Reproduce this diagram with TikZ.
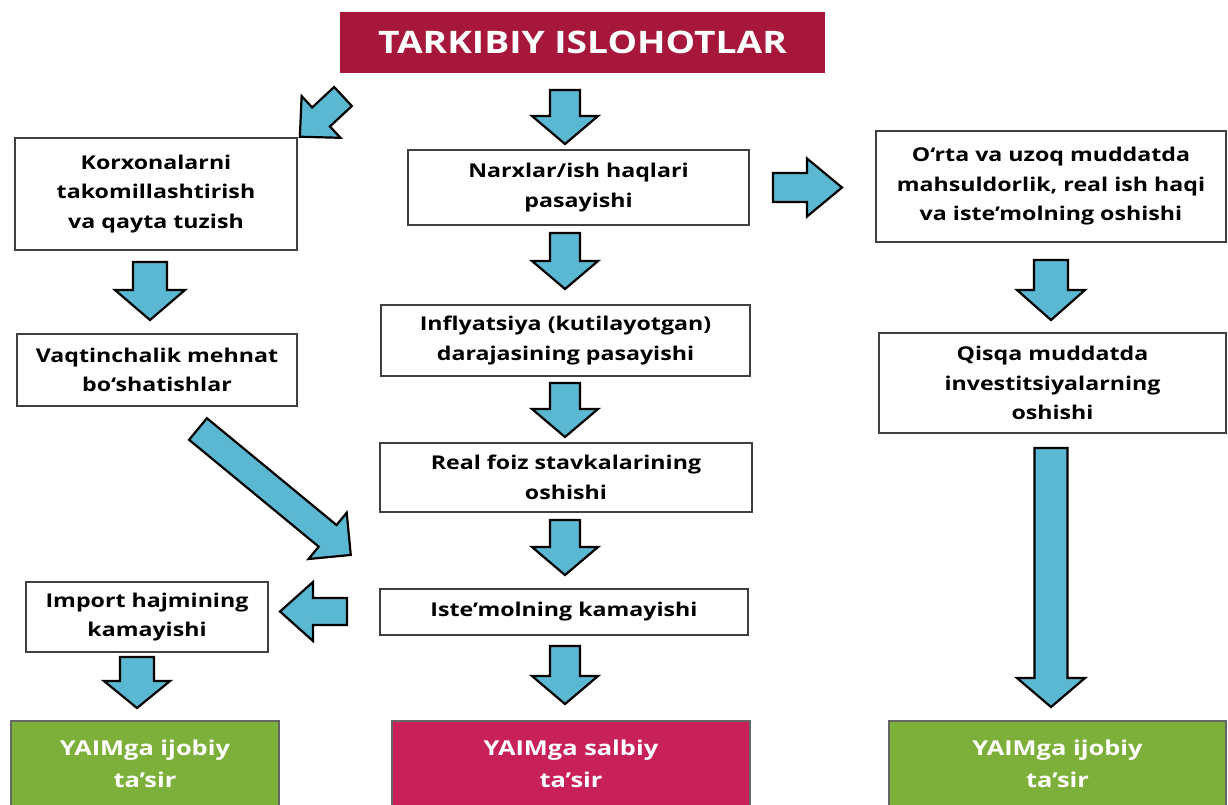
\documentclass[tikz,border=0pt]{standalone}
\usepackage{fontspec}
\setmainfont{Open Sans}
\newfontfamily\boxfont[FakeStretch=1.22]{Open Sans}
\newfontfamily\resfont[FakeStretch=1.24]{Open Sans}
\newfontfamily\titlefont[FakeStretch=1.2]{Open Sans}
\definecolor{titlered}{HTML}{A6173B}
\definecolor{negred}{HTML}{C8215A}
\definecolor{posgreen}{HTML}{7DB03A}
\definecolor{arrblue}{HTML}{5BB8D2}
\tikzset{
  box/.style={draw=black!75, line width=1.3pt, fill=white, align=center, inner sep=2pt,
    font=\boxfont\fontsize{19}{29.5}\selectfont\bfseries},
  resbox/.style={draw=black!60, line width=1.3pt, align=center, text=white,
    font=\resfont\fontsize{20.5}{32}\selectfont\bfseries},
  blockarr/.style={draw=black, line width=2.2pt, fill=arrblue, line join=miter}
}
% #1 tail point, #2 rotation, #3 length, #4 shaft half width, #5 head half width, #6 head length
\newcommand\barrow[6]{%
  \draw[blockarr, shift={#1}, rotate=#2]
    (0,-#4) -- ({#3-#6},-#4) -- ({#3-#6},-#5) -- (#3,0) -- ({#3-#6},#5) -- ({#3-#6},#4) -- (0,#4) -- cycle;}
\begin{document}
\begin{tikzpicture}[x=1pt,y=-1pt]
\useasboundingbox (0,0) rectangle (1228,804);
\fill[white] (0,0) rectangle (1228,804);

\node[fill=titlered, text=white, minimum width=485pt, minimum height=61pt,
  font=\titlefont\fontsize{31}{36}\selectfont\bfseries] (title) at (582.5,42.5) {TARKIBIY ISLOHOTLAR};

\node[box, minimum width=282pt, minimum height=112pt] (b1) at (156,194)
  {Korxonalarni\\takomillashtirish\\va qayta tuzish};
\node[box, minimum width=341pt, minimum height=75pt] (b2) at (578.5,187.5)
  {Narxlar/ish haqlari\\pasayishi};
\node[box, minimum width=350pt, minimum height=111pt] (b3) at (1051,186.5)
  {O‘rta va uzoq muddatda\\mahsuldorlik, real ish haqi\\va iste’molning oshishi};
\node[box, minimum width=280pt, minimum height=72pt] (b4) at (157,370)
  {Vaqtinchalik mehnat\\bo‘shatishlar};
\node[box, minimum width=369pt, minimum height=71pt] (b5) at (565.5,340.5)
  {Inflyatsiya (kutilayotgan)\\darajasining pasayishi};
\node[box, minimum width=347pt, minimum height=100pt] (b6) at (1052.5,383)
  {Qisqa muddatda\\investitsiyalarning\\oshishi};
\node[box, minimum width=372pt, minimum height=69pt] (b7) at (566,477.5)
  {Real foiz stavkalarining\\oshishi};
\node[box, minimum width=242pt, minimum height=70pt] (b8) at (147,617)
  {Import hajmining\\kamayishi};
\node[box, minimum width=368pt, minimum height=46pt] (b9) at (564,612)
  {Iste’molning kamayishi};

\node[resbox, fill=posgreen, minimum width=268pt, minimum height=86pt] (g1) at (145,764)
  {YAIMga ijobiy\\ta’sir};
\node[resbox, fill=negred, minimum width=358pt, minimum height=86pt] (c2) at (571,764)
  {YAIMga salbiy\\ta’sir};
\node[resbox, fill=posgreen, minimum width=337pt, minimum height=86pt] (g3) at (1057.5,764)
  {YAIMga ijobiy\\ta’sir};

% middle column arrows
\barrow{(565,90)}{-90}{54}{15}{33}{28}
\barrow{(565,233)}{-90}{56}{15}{33}{28}
\barrow{(565,383)}{-90}{54}{15}{33}{28}
\barrow{(565,520)}{-90}{55}{15}{33}{28}
\barrow{(565,646)}{-90}{58}{15}{33}{28}
% left column
\barrow{(343,96.5)}{-137}{59}{13}{28.5}{29}
\barrow{(150,262)}{-90}{58}{17}{35}{30}
\barrow{(198,429)}{-39.5}{198}{14}{30}{30}
\barrow{(347,611.5)}{180}{67}{13.5}{29.5}{33}
\barrow{(137,657)}{-90}{51}{17}{33}{27}
% right column
\barrow{(773,187.5)}{0}{69}{14.5}{29}{35}
\barrow{(1051,260)}{-90}{60}{17}{34}{30}
\barrow{(1051,448)}{-90}{259}{16.5}{34}{29}
\end{tikzpicture}
\end{document}
